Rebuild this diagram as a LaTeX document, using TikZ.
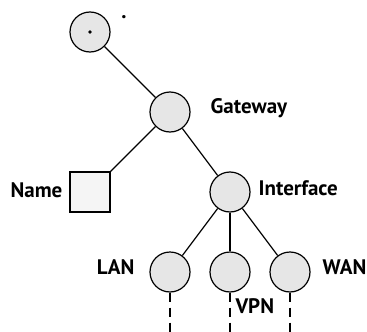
\documentclass[tikz,border=0pt]{standalone}
\usepackage{fontspec}
\setmainfont{PT Sans}
\definecolor{NodeFill}{HTML}{E6E6E6}
\definecolor{LeafFill}{HTML}{F5F5F5}

\begin{document}
\begin{tikzpicture}[x=1pt, y=-1pt, line width=1.2pt,
            tnode/.style={draw=black, circle, minimum size=40pt, inner sep=0pt, fill=NodeFill},
            leaf/.style={draw=black, rectangle, minimum size=40pt, inner sep=0pt, fill=LeafFill},
            lbl/.style={font=\fontsize{21}{24}\selectfont\bfseries, inner sep=0pt},
            stub/.style={dash pattern=on 9pt off 6pt}]
            \useasboundingbox (0,0) rectangle (367,332);

            % arbre
            \node[tnode] (root) at (90, 32) {};
            \fill (root.center) circle (1.8pt);
            \node[lbl, anchor=base] (rootl) at (124, 18) {.};

            \node[tnode] (gw) at (170, 112) {};
            \node[lbl, anchor=west] (gwl) at (210, 108) {Gateway};

            \node[leaf] (name) at (90, 192) {};
            \node[lbl, anchor=east] (namel) at (63, 190) {Name};

            \node[tnode] (itf) at (230, 192) {};
            \node[lbl, anchor=west] (itfl) at (258, 188) {Interface};

            \node[tnode] (lan) at (170, 272) {};
            \node[lbl, anchor=east] (lanl) at (135, 267) {LAN};
            \node[tnode] (vpn) at (230, 272) {};
            \node[lbl, anchor=west] (vpnl) at (235, 306) {VPN};
            \node[tnode] (wan) at (290, 272) {};
            \node[lbl, anchor=west] (wanl) at (322, 267) {WAN};

            % liens
            \draw (root) -- (gw);
            \draw (gw) -- (name.north east);
            \draw (gw) -- (itf);
            \draw (itf) -- (lan);
            \draw (itf) -- (vpn);
            \draw (itf) -- (wan);

            % suites en pointillé
            \coordinate (lanend) at (170, 332);
            \coordinate (vpnend) at (230, 332);
            \coordinate (wanend) at (290, 332);
            \draw[stub] (lan.south) -- (lanend);
            \draw[stub] (vpn.south) -- (vpnend);
            \draw[stub] (wan.south) -- (wanend);
\end{tikzpicture}
\end{document}
